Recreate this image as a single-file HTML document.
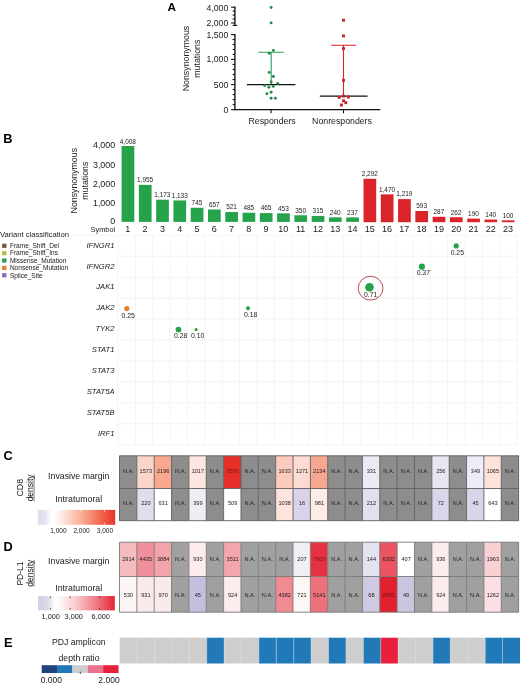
<!DOCTYPE html>
<html lang="en"><head><meta charset="utf-8"><title>Figure</title>
<style>
html,body{margin:0;padding:0;background:#fff}
svg{display:block;font-family:"Liberation Sans", Arial, sans-serif}
#w{will-change:transform;width:520px;height:685px}
</style></head>
<body>
<div id="w">
<svg width="520" height="685" viewBox="0 0 520 685">
<rect width="520" height="685" fill="#fff"/>
<text x="167.40" y="10.60" font-size="11.7" text-anchor="start" font-weight="bold" font-style="normal" fill="#000" >A</text>
<g stroke="#111" stroke-width="1.35" fill="none">
<path d="M234.9 6.6V25.4M234.9 34.0V110.2"/>
<path d="M234.3 109.6H380.3"/>
</g>
<g stroke="#111" stroke-width="1.1" fill="none">
<path d="M232.6 25.4H237.20000000000002"/>
<path d="M231.1 7.2H234.9"/>
<path d="M231.1 23.0H234.9"/>
<path d="M231.1 34.6H234.9"/>
<path d="M231.1 59.4H234.9"/>
<path d="M231.1 84.6H234.9"/>
<path d="M231.1 109.6H234.9"/>
<path d="M232.6 11.15H234.9"/>
<path d="M232.6 15.10H234.9"/>
<path d="M232.6 19.05H234.9"/>
<path d="M232.6 39.56H234.9"/>
<path d="M232.6 44.52H234.9"/>
<path d="M232.6 49.48H234.9"/>
<path d="M232.6 54.44H234.9"/>
<path d="M232.6 64.44H234.9"/>
<path d="M232.6 69.48H234.9"/>
<path d="M232.6 74.52H234.9"/>
<path d="M232.6 79.56H234.9"/>
<path d="M232.6 89.60H234.9"/>
<path d="M232.6 94.60H234.9"/>
<path d="M232.6 99.60H234.9"/>
<path d="M232.6 104.60H234.9"/>
<path d="M271.1 109.6V113.3M343.5 109.6V113.3"/>
</g>
<text x="228.30" y="10.60" font-size="8.7" text-anchor="end" font-weight="normal" font-style="normal" fill="#1a1a1a" >4,000</text>
<text x="228.30" y="26.00" font-size="8.7" text-anchor="end" font-weight="normal" font-style="normal" fill="#1a1a1a" >2,000</text>
<text x="228.30" y="37.60" font-size="8.7" text-anchor="end" font-weight="normal" font-style="normal" fill="#1a1a1a" >1,500</text>
<text x="228.30" y="62.30" font-size="8.7" text-anchor="end" font-weight="normal" font-style="normal" fill="#1a1a1a" >1,000</text>
<text x="228.30" y="87.60" font-size="8.7" text-anchor="end" font-weight="normal" font-style="normal" fill="#1a1a1a" >500</text>
<text x="228.30" y="113.00" font-size="8.7" text-anchor="end" font-weight="normal" font-style="normal" fill="#1a1a1a" >0</text>
<text x="272.10" y="123.90" font-size="8.75" text-anchor="middle" font-weight="normal" font-style="normal" fill="#1a1a1a" >Responders</text>
<text x="342.00" y="124.00" font-size="8.75" text-anchor="middle" font-weight="normal" font-style="normal" fill="#1a1a1a" >Nonresponders</text>
<text transform="translate(188.90,58.50) rotate(-90)" font-size="8.8" text-anchor="middle" fill="#1a1a1a" >Nonsynonymous</text>
<text transform="translate(199.70,58.70) rotate(-90)" font-size="8.75" text-anchor="middle" fill="#1a1a1a" >mutations</text>
<g stroke="#2a9d5c" stroke-width="1.1" fill="none"><path d="M258.5 52.2H283.8M271.2 52.2V84.5"/></g>
<path d="M246.9 84.6H295.4" stroke="#111" stroke-width="1.2" fill="none"/>
<circle cx="271.1" cy="7.5" r="1.45" fill="#1d8a48"/>
<circle cx="271.1" cy="22.9" r="1.45" fill="#1d8a48"/>
<circle cx="273.4" cy="50.4" r="1.45" fill="#1d8a48"/>
<circle cx="269.2" cy="53.2" r="1.45" fill="#1d8a48"/>
<circle cx="269.2" cy="72.4" r="1.45" fill="#1d8a48"/>
<circle cx="273.4" cy="76.5" r="1.45" fill="#1d8a48"/>
<circle cx="271.2" cy="82.0" r="1.45" fill="#1d8a48"/>
<circle cx="277.7" cy="83.5" r="1.45" fill="#1d8a48"/>
<circle cx="264.6" cy="85.5" r="1.45" fill="#1d8a48"/>
<circle cx="268.9" cy="87.2" r="1.45" fill="#1d8a48"/>
<circle cx="273.2" cy="86.4" r="1.45" fill="#1d8a48"/>
<circle cx="266.9" cy="93.8" r="1.45" fill="#1d8a48"/>
<circle cx="271.1" cy="92.3" r="1.45" fill="#1d8a48"/>
<circle cx="271.1" cy="98.2" r="1.45" fill="#1d8a48"/>
<circle cx="275.4" cy="98.2" r="1.45" fill="#1d8a48"/>
<g stroke="#da2429" stroke-width="1.1" fill="none"><path d="M331.2 45.2H356.2M343.5 45.2V96.1"/></g>
<path d="M319.8 96.2H367.6" stroke="#111" stroke-width="1.3" fill="none"/>
<rect x="342.05" y="18.75" width="2.9" height="2.9" fill="#c8202a"/>
<rect x="342.05" y="34.45" width="2.9" height="2.9" fill="#c8202a"/>
<rect x="342.05" y="47.15" width="2.9" height="2.9" fill="#c8202a"/>
<rect x="342.05" y="78.85" width="2.9" height="2.9" fill="#c8202a"/>
<rect x="337.75" y="95.95" width="2.9" height="2.9" fill="#c8202a"/>
<rect x="342.05" y="94.65" width="2.9" height="2.9" fill="#c8202a"/>
<rect x="346.85" y="95.55" width="2.9" height="2.9" fill="#c8202a"/>
<rect x="342.05" y="99.35" width="2.9" height="2.9" fill="#c8202a"/>
<rect x="344.35" y="101.25" width="2.9" height="2.9" fill="#c8202a"/>
<rect x="339.95" y="103.55" width="2.9" height="2.9" fill="#c8202a"/>
<text x="3.30" y="142.70" font-size="12.8" text-anchor="start" font-weight="bold" font-style="normal" fill="#000" >B</text>
<text transform="translate(77.30,180.70) rotate(-90)" font-size="8.8" text-anchor="middle" fill="#1a1a1a" >Nonsynonymous</text>
<text transform="translate(88.00,180.70) rotate(-90)" font-size="8.8" text-anchor="middle" fill="#1a1a1a" >mutations</text>
<text x="115.20" y="148.40" font-size="8.9" text-anchor="end" font-weight="normal" font-style="normal" fill="#1a1a1a" >4,000</text>
<text x="115.20" y="167.80" font-size="8.9" text-anchor="end" font-weight="normal" font-style="normal" fill="#1a1a1a" >3,000</text>
<text x="115.20" y="186.90" font-size="8.9" text-anchor="end" font-weight="normal" font-style="normal" fill="#1a1a1a" >2,000</text>
<text x="115.20" y="205.70" font-size="8.9" text-anchor="end" font-weight="normal" font-style="normal" fill="#1a1a1a" >1,000</text>
<text x="115.20" y="223.80" font-size="8.9" text-anchor="end" font-weight="normal" font-style="normal" fill="#1a1a1a" >0</text>
<rect x="121.60" y="146.00" width="12.7" height="75.90" fill="#26a34a"/>
<text x="127.85" y="143.50" font-size="6.45" text-anchor="middle" font-weight="normal" font-style="normal" fill="#222" >4,008</text>
<text x="127.85" y="232.40" font-size="9" text-anchor="middle" font-weight="normal" font-style="normal" fill="#1a1a1a" >1</text>
<rect x="138.88" y="184.88" width="12.7" height="37.02" fill="#26a34a"/>
<text x="145.13" y="182.18" font-size="6.45" text-anchor="middle" font-weight="normal" font-style="normal" fill="#222" >1,955</text>
<text x="145.13" y="232.40" font-size="9" text-anchor="middle" font-weight="normal" font-style="normal" fill="#1a1a1a" >2</text>
<rect x="156.16" y="199.69" width="12.7" height="22.21" fill="#26a34a"/>
<text x="162.41" y="196.99" font-size="6.45" text-anchor="middle" font-weight="normal" font-style="normal" fill="#222" >1,173</text>
<text x="162.41" y="232.40" font-size="9" text-anchor="middle" font-weight="normal" font-style="normal" fill="#1a1a1a" >3</text>
<rect x="173.44" y="200.44" width="12.7" height="21.46" fill="#26a34a"/>
<text x="179.69" y="197.74" font-size="6.45" text-anchor="middle" font-weight="normal" font-style="normal" fill="#222" >1,133</text>
<text x="179.69" y="232.40" font-size="9" text-anchor="middle" font-weight="normal" font-style="normal" fill="#1a1a1a" >4</text>
<rect x="190.72" y="207.79" width="12.7" height="14.11" fill="#26a34a"/>
<text x="196.97" y="205.09" font-size="6.45" text-anchor="middle" font-weight="normal" font-style="normal" fill="#222" >745</text>
<text x="196.97" y="232.40" font-size="9" text-anchor="middle" font-weight="normal" font-style="normal" fill="#1a1a1a" >5</text>
<rect x="208.00" y="209.46" width="12.7" height="12.44" fill="#26a34a"/>
<text x="214.25" y="206.76" font-size="6.45" text-anchor="middle" font-weight="normal" font-style="normal" fill="#222" >657</text>
<text x="214.25" y="232.40" font-size="9" text-anchor="middle" font-weight="normal" font-style="normal" fill="#1a1a1a" >6</text>
<rect x="225.28" y="212.03" width="12.7" height="9.87" fill="#26a34a"/>
<text x="231.53" y="209.33" font-size="6.45" text-anchor="middle" font-weight="normal" font-style="normal" fill="#222" >521</text>
<text x="231.53" y="232.40" font-size="9" text-anchor="middle" font-weight="normal" font-style="normal" fill="#1a1a1a" >7</text>
<rect x="242.56" y="212.72" width="12.7" height="9.18" fill="#26a34a"/>
<text x="248.81" y="210.02" font-size="6.45" text-anchor="middle" font-weight="normal" font-style="normal" fill="#222" >485</text>
<text x="248.81" y="232.40" font-size="9" text-anchor="middle" font-weight="normal" font-style="normal" fill="#1a1a1a" >8</text>
<rect x="259.84" y="213.09" width="12.7" height="8.81" fill="#26a34a"/>
<text x="266.09" y="210.39" font-size="6.45" text-anchor="middle" font-weight="normal" font-style="normal" fill="#222" >465</text>
<text x="266.09" y="232.40" font-size="9" text-anchor="middle" font-weight="normal" font-style="normal" fill="#1a1a1a" >9</text>
<rect x="277.12" y="213.32" width="12.7" height="8.58" fill="#26a34a"/>
<text x="283.37" y="210.62" font-size="6.45" text-anchor="middle" font-weight="normal" font-style="normal" fill="#222" >453</text>
<text x="283.37" y="232.40" font-size="9" text-anchor="middle" font-weight="normal" font-style="normal" fill="#1a1a1a" >10</text>
<rect x="294.40" y="215.27" width="12.7" height="6.63" fill="#26a34a"/>
<text x="300.65" y="212.57" font-size="6.45" text-anchor="middle" font-weight="normal" font-style="normal" fill="#222" >350</text>
<text x="300.65" y="232.40" font-size="9" text-anchor="middle" font-weight="normal" font-style="normal" fill="#1a1a1a" >11</text>
<rect x="311.68" y="215.93" width="12.7" height="5.97" fill="#26a34a"/>
<text x="317.93" y="213.23" font-size="6.45" text-anchor="middle" font-weight="normal" font-style="normal" fill="#222" >315</text>
<text x="317.93" y="232.40" font-size="9" text-anchor="middle" font-weight="normal" font-style="normal" fill="#1a1a1a" >12</text>
<rect x="328.96" y="217.36" width="12.7" height="4.54" fill="#26a34a"/>
<text x="335.21" y="214.66" font-size="6.45" text-anchor="middle" font-weight="normal" font-style="normal" fill="#222" >240</text>
<text x="335.21" y="232.40" font-size="9" text-anchor="middle" font-weight="normal" font-style="normal" fill="#1a1a1a" >13</text>
<rect x="346.24" y="217.41" width="12.7" height="4.49" fill="#26a34a"/>
<text x="352.49" y="214.71" font-size="6.45" text-anchor="middle" font-weight="normal" font-style="normal" fill="#222" >237</text>
<text x="352.49" y="232.40" font-size="9" text-anchor="middle" font-weight="normal" font-style="normal" fill="#1a1a1a" >14</text>
<rect x="363.52" y="178.80" width="12.7" height="43.40" fill="#da2429"/>
<text x="369.77" y="176.10" font-size="6.45" text-anchor="middle" font-weight="normal" font-style="normal" fill="#222" >2,292</text>
<text x="369.77" y="232.40" font-size="9" text-anchor="middle" font-weight="normal" font-style="normal" fill="#1a1a1a" >15</text>
<rect x="380.80" y="194.36" width="12.7" height="27.84" fill="#da2429"/>
<text x="387.05" y="191.66" font-size="6.45" text-anchor="middle" font-weight="normal" font-style="normal" fill="#222" >1,470</text>
<text x="387.05" y="232.40" font-size="9" text-anchor="middle" font-weight="normal" font-style="normal" fill="#1a1a1a" >16</text>
<rect x="398.08" y="199.12" width="12.7" height="23.08" fill="#da2429"/>
<text x="404.33" y="196.42" font-size="6.45" text-anchor="middle" font-weight="normal" font-style="normal" fill="#222" >1,219</text>
<text x="404.33" y="232.40" font-size="9" text-anchor="middle" font-weight="normal" font-style="normal" fill="#1a1a1a" >17</text>
<rect x="415.36" y="210.97" width="12.7" height="11.23" fill="#da2429"/>
<text x="421.61" y="208.27" font-size="6.45" text-anchor="middle" font-weight="normal" font-style="normal" fill="#222" >593</text>
<text x="421.61" y="232.40" font-size="9" text-anchor="middle" font-weight="normal" font-style="normal" fill="#1a1a1a" >18</text>
<rect x="432.64" y="216.77" width="12.7" height="5.43" fill="#da2429"/>
<text x="438.89" y="214.07" font-size="6.45" text-anchor="middle" font-weight="normal" font-style="normal" fill="#222" >287</text>
<text x="438.89" y="232.40" font-size="9" text-anchor="middle" font-weight="normal" font-style="normal" fill="#1a1a1a" >19</text>
<rect x="449.92" y="217.24" width="12.7" height="4.96" fill="#da2429"/>
<text x="456.17" y="214.54" font-size="6.45" text-anchor="middle" font-weight="normal" font-style="normal" fill="#222" >262</text>
<text x="456.17" y="232.40" font-size="9" text-anchor="middle" font-weight="normal" font-style="normal" fill="#1a1a1a" >20</text>
<rect x="467.20" y="218.60" width="12.7" height="3.60" fill="#da2429"/>
<text x="473.45" y="215.90" font-size="6.45" text-anchor="middle" font-weight="normal" font-style="normal" fill="#222" >190</text>
<text x="473.45" y="232.40" font-size="9" text-anchor="middle" font-weight="normal" font-style="normal" fill="#1a1a1a" >21</text>
<rect x="484.48" y="219.55" width="12.7" height="2.65" fill="#da2429"/>
<text x="490.73" y="216.85" font-size="6.45" text-anchor="middle" font-weight="normal" font-style="normal" fill="#222" >140</text>
<text x="490.73" y="232.40" font-size="9" text-anchor="middle" font-weight="normal" font-style="normal" fill="#1a1a1a" >22</text>
<rect x="501.76" y="220.31" width="12.7" height="1.89" fill="#da2429"/>
<text x="508.01" y="217.61" font-size="6.45" text-anchor="middle" font-weight="normal" font-style="normal" fill="#222" >100</text>
<text x="508.01" y="232.40" font-size="9" text-anchor="middle" font-weight="normal" font-style="normal" fill="#1a1a1a" >23</text>
<text x="115.20" y="232.10" font-size="7.4" text-anchor="end" font-weight="normal" font-style="normal" fill="#1a1a1a" >Symbol</text>
<g stroke="#f4f4f4" stroke-width="1" fill="none">
<path d="M118.00 235V444.8"/>
<path d="M135.35 235V444.8"/>
<path d="M152.70 235V444.8"/>
<path d="M170.05 235V444.8"/>
<path d="M187.40 235V444.8"/>
<path d="M204.75 235V444.8"/>
<path d="M222.10 235V444.8"/>
<path d="M239.45 235V444.8"/>
<path d="M256.80 235V444.8"/>
<path d="M274.15 235V444.8"/>
<path d="M291.50 235V444.8"/>
<path d="M308.85 235V444.8"/>
<path d="M326.20 235V444.8"/>
<path d="M343.55 235V444.8"/>
<path d="M360.90 235V444.8"/>
<path d="M378.25 235V444.8"/>
<path d="M395.60 235V444.8"/>
<path d="M412.95 235V444.8"/>
<path d="M430.30 235V444.8"/>
<path d="M447.65 235V444.8"/>
<path d="M465.00 235V444.8"/>
<path d="M482.35 235V444.8"/>
<path d="M499.70 235V444.8"/>
<path d="M517.05 235V444.8"/>
<path d="M71 235.4H517.6"/>
<path d="M116 256.33H517.6"/>
<path d="M116 277.26H517.6"/>
<path d="M116 298.19H517.6"/>
<path d="M116 319.12H517.6"/>
<path d="M116 340.05H517.6"/>
<path d="M116 360.98H517.6"/>
<path d="M116 381.90999999999997H517.6"/>
<path d="M116 402.84000000000003H517.6"/>
<path d="M116 423.77H517.6"/>
<path d="M116 444.70000000000005H517.6"/>
</g>
<text x="114.50" y="247.60" font-size="7.65" text-anchor="end" font-weight="normal" font-style="italic" fill="#1a1a1a" >IFNGR1</text>
<text x="114.50" y="268.52" font-size="7.65" text-anchor="end" font-weight="normal" font-style="italic" fill="#1a1a1a" >IFNGR2</text>
<text x="114.50" y="289.44" font-size="7.65" text-anchor="end" font-weight="normal" font-style="italic" fill="#1a1a1a" >JAK1</text>
<text x="114.50" y="310.36" font-size="7.65" text-anchor="end" font-weight="normal" font-style="italic" fill="#1a1a1a" >JAK2</text>
<text x="114.50" y="331.28" font-size="7.65" text-anchor="end" font-weight="normal" font-style="italic" fill="#1a1a1a" >TYK2</text>
<text x="114.50" y="352.20" font-size="7.65" text-anchor="end" font-weight="normal" font-style="italic" fill="#1a1a1a" >STAT1</text>
<text x="114.50" y="373.12" font-size="7.65" text-anchor="end" font-weight="normal" font-style="italic" fill="#1a1a1a" >STAT3</text>
<text x="114.50" y="394.04" font-size="7.65" text-anchor="end" font-weight="normal" font-style="italic" fill="#1a1a1a" >STAT5A</text>
<text x="114.50" y="414.96" font-size="7.65" text-anchor="end" font-weight="normal" font-style="italic" fill="#1a1a1a" >STAT5B</text>
<text x="114.50" y="435.88" font-size="7.65" text-anchor="end" font-weight="normal" font-style="italic" fill="#1a1a1a" >IRF1</text>
<text x="0.00" y="237.40" font-size="7.64" text-anchor="start" font-weight="normal" font-style="normal" fill="#1a1a1a" >Variant classification</text>
<rect x="2.1" y="243.70" width="4.4" height="4.2" fill="#7b5244"/>
<text x="9.90" y="248.10" font-size="6.55" text-anchor="start" font-weight="normal" font-style="normal" fill="#1a1a1a" >Frame_Shift_Del</text>
<rect x="2.1" y="251.06" width="4.4" height="4.2" fill="#b5b93c"/>
<text x="9.90" y="255.46" font-size="6.55" text-anchor="start" font-weight="normal" font-style="normal" fill="#1a1a1a" >Frame_Shift_Ins</text>
<rect x="2.1" y="258.42" width="4.4" height="4.2" fill="#26a34a"/>
<text x="9.90" y="262.82" font-size="6.55" text-anchor="start" font-weight="normal" font-style="normal" fill="#1a1a1a" >Missense_Mutation</text>
<rect x="2.1" y="265.78" width="4.4" height="4.2" fill="#e8822c"/>
<text x="9.90" y="270.18" font-size="6.55" text-anchor="start" font-weight="normal" font-style="normal" fill="#1a1a1a" >Nonsense_Mutation</text>
<rect x="2.1" y="273.14" width="4.4" height="4.2" fill="#8a6bb5"/>
<text x="9.90" y="277.54" font-size="6.55" text-anchor="start" font-weight="normal" font-style="normal" fill="#1a1a1a" >Splice_Site</text>
<circle cx="126.8" cy="308.6" r="2.6" fill="#e8822c"/>
<text x="128.20" y="317.90" font-size="6.85" text-anchor="middle" font-weight="normal" font-style="normal" fill="#1a1a1a" >0.25</text>
<circle cx="178.5" cy="329.6" r="2.9" fill="#26a34a"/>
<text x="180.60" y="338.10" font-size="6.85" text-anchor="middle" font-weight="normal" font-style="normal" fill="#1a1a1a" >0.28</text>
<circle cx="196.1" cy="329.6" r="1.6" fill="#26a34a"/>
<text x="197.60" y="338.10" font-size="6.85" text-anchor="middle" font-weight="normal" font-style="normal" fill="#1a1a1a" >0.10</text>
<circle cx="248" cy="308.3" r="2.0" fill="#26a34a"/>
<text x="250.60" y="317.10" font-size="6.85" text-anchor="middle" font-weight="normal" font-style="normal" fill="#1a1a1a" >0.18</text>
<circle cx="456.2" cy="245.9" r="2.6" fill="#26a34a"/>
<text x="457.30" y="255.10" font-size="6.85" text-anchor="middle" font-weight="normal" font-style="normal" fill="#1a1a1a" >0.25</text>
<circle cx="421.9" cy="266.7" r="3.1" fill="#26a34a"/>
<text x="423.30" y="275.30" font-size="6.85" text-anchor="middle" font-weight="normal" font-style="normal" fill="#1a1a1a" >0.37</text>
<circle cx="369.5" cy="287.3" r="4.3" fill="#26a34a"/>
<text x="370.60" y="297.10" font-size="6.85" text-anchor="middle" font-weight="normal" font-style="normal" fill="#1a1a1a" >0.71</text>
<ellipse cx="370.6" cy="288.2" rx="12.4" ry="11.9" fill="none" stroke="#b8323c" stroke-width="0.9"/>
<rect x="119.50" y="455.8" width="17.35" height="32.70" fill="#8d8d8d"/>
<rect x="136.85" y="455.8" width="17.35" height="32.70" fill="#fcd5c9"/>
<rect x="154.20" y="455.8" width="17.35" height="32.70" fill="#f9a78f"/>
<rect x="171.56" y="455.8" width="17.35" height="32.70" fill="#8d8d8d"/>
<rect x="188.91" y="455.8" width="17.35" height="32.70" fill="#fde6df"/>
<rect x="206.26" y="455.8" width="17.35" height="32.70" fill="#8d8d8d"/>
<rect x="223.61" y="455.8" width="17.35" height="32.70" fill="#e8302a"/>
<rect x="240.97" y="455.8" width="17.35" height="32.70" fill="#8d8d8d"/>
<rect x="258.32" y="455.8" width="17.35" height="32.70" fill="#8d8d8d"/>
<rect x="275.67" y="455.8" width="17.35" height="32.70" fill="#fbcbbd"/>
<rect x="293.02" y="455.8" width="17.35" height="32.70" fill="#fcdcd2"/>
<rect x="310.37" y="455.8" width="17.35" height="32.70" fill="#f7a690"/>
<rect x="327.73" y="455.8" width="17.35" height="32.70" fill="#8d8d8d"/>
<rect x="345.08" y="455.8" width="17.35" height="32.70" fill="#8d8d8d"/>
<rect x="362.43" y="455.8" width="17.35" height="32.70" fill="#eceaf5"/>
<rect x="379.78" y="455.8" width="17.35" height="32.70" fill="#8d8d8d"/>
<rect x="397.13" y="455.8" width="17.35" height="32.70" fill="#8d8d8d"/>
<rect x="414.49" y="455.8" width="17.35" height="32.70" fill="#8d8d8d"/>
<rect x="431.84" y="455.8" width="17.35" height="32.70" fill="#e8e6f2"/>
<rect x="449.19" y="455.8" width="17.35" height="32.70" fill="#8d8d8d"/>
<rect x="466.54" y="455.8" width="17.35" height="32.70" fill="#eeecf6"/>
<rect x="483.90" y="455.8" width="17.35" height="32.70" fill="#fde4db"/>
<rect x="501.25" y="455.8" width="17.35" height="32.70" fill="#8d8d8d"/>
<rect x="119.50" y="488.5" width="17.35" height="32.20" fill="#8d8d8d"/>
<rect x="136.85" y="488.5" width="17.35" height="32.20" fill="#e0deed"/>
<rect x="154.20" y="488.5" width="17.35" height="32.20" fill="#ffffff"/>
<rect x="171.56" y="488.5" width="17.35" height="32.20" fill="#8d8d8d"/>
<rect x="188.91" y="488.5" width="17.35" height="32.20" fill="#efeef7"/>
<rect x="206.26" y="488.5" width="17.35" height="32.20" fill="#8d8d8d"/>
<rect x="223.61" y="488.5" width="17.35" height="32.20" fill="#ffffff"/>
<rect x="240.97" y="488.5" width="17.35" height="32.20" fill="#8d8d8d"/>
<rect x="258.32" y="488.5" width="17.35" height="32.20" fill="#8d8d8d"/>
<rect x="275.67" y="488.5" width="17.35" height="32.20" fill="#fde5dd"/>
<rect x="293.02" y="488.5" width="17.35" height="32.20" fill="#d8d3e8"/>
<rect x="310.37" y="488.5" width="17.35" height="32.20" fill="#fdece6"/>
<rect x="327.73" y="488.5" width="17.35" height="32.20" fill="#8d8d8d"/>
<rect x="345.08" y="488.5" width="17.35" height="32.20" fill="#8d8d8d"/>
<rect x="362.43" y="488.5" width="17.35" height="32.20" fill="#e2dfee"/>
<rect x="379.78" y="488.5" width="17.35" height="32.20" fill="#8d8d8d"/>
<rect x="397.13" y="488.5" width="17.35" height="32.20" fill="#8d8d8d"/>
<rect x="414.49" y="488.5" width="17.35" height="32.20" fill="#8d8d8d"/>
<rect x="431.84" y="488.5" width="17.35" height="32.20" fill="#dbd7ea"/>
<rect x="449.19" y="488.5" width="17.35" height="32.20" fill="#8d8d8d"/>
<rect x="466.54" y="488.5" width="17.35" height="32.20" fill="#d9d5e8"/>
<rect x="483.90" y="488.5" width="17.35" height="32.20" fill="#ffffff"/>
<rect x="501.25" y="488.5" width="17.35" height="32.20" fill="#8d8d8d"/>
<g stroke="#5e5e5e" stroke-width="0.9" fill="none">
<path d="M119.50 455.8V520.7"/>
<path d="M136.85 455.8V520.7"/>
<path d="M154.20 455.8V520.7"/>
<path d="M171.56 455.8V520.7"/>
<path d="M188.91 455.8V520.7"/>
<path d="M206.26 455.8V520.7"/>
<path d="M223.61 455.8V520.7"/>
<path d="M240.97 455.8V520.7"/>
<path d="M258.32 455.8V520.7"/>
<path d="M275.67 455.8V520.7"/>
<path d="M293.02 455.8V520.7"/>
<path d="M310.37 455.8V520.7"/>
<path d="M327.73 455.8V520.7"/>
<path d="M345.08 455.8V520.7"/>
<path d="M362.43 455.8V520.7"/>
<path d="M379.78 455.8V520.7"/>
<path d="M397.13 455.8V520.7"/>
<path d="M414.49 455.8V520.7"/>
<path d="M431.84 455.8V520.7"/>
<path d="M449.19 455.8V520.7"/>
<path d="M466.54 455.8V520.7"/>
<path d="M483.90 455.8V520.7"/>
<path d="M501.25 455.8V520.7"/>
<path d="M518.60 455.8V520.7"/>
<path d="M119.5 455.8H518.6"/>
<path d="M119.5 488.5H518.6"/>
<path d="M119.5 520.7H518.6"/>
</g>
<text x="128.48" y="472.80" font-size="5.6" text-anchor="middle" font-weight="normal" font-style="normal" fill="#1c1c1c" >N.A.</text>
<text x="145.83" y="472.80" font-size="5.6" text-anchor="middle" font-weight="normal" font-style="normal" fill="#1c1c1c" >1573</text>
<text x="163.18" y="472.80" font-size="5.6" text-anchor="middle" font-weight="normal" font-style="normal" fill="#1c1c1c" >2196</text>
<text x="180.53" y="472.80" font-size="5.6" text-anchor="middle" font-weight="normal" font-style="normal" fill="#1c1c1c" >N.A.</text>
<text x="197.88" y="472.80" font-size="5.6" text-anchor="middle" font-weight="normal" font-style="normal" fill="#1c1c1c" >1017</text>
<text x="215.24" y="472.80" font-size="5.6" text-anchor="middle" font-weight="normal" font-style="normal" fill="#1c1c1c" >N.A.</text>
<text x="232.59" y="472.80" font-size="5.6" text-anchor="middle" font-weight="normal" font-style="normal" fill="#7a1512" >3500</text>
<text x="249.94" y="472.80" font-size="5.6" text-anchor="middle" font-weight="normal" font-style="normal" fill="#1c1c1c" >N.A.</text>
<text x="267.29" y="472.80" font-size="5.6" text-anchor="middle" font-weight="normal" font-style="normal" fill="#1c1c1c" >N.A.</text>
<text x="284.65" y="472.80" font-size="5.6" text-anchor="middle" font-weight="normal" font-style="normal" fill="#1c1c1c" >1633</text>
<text x="302.00" y="472.80" font-size="5.6" text-anchor="middle" font-weight="normal" font-style="normal" fill="#1c1c1c" >1271</text>
<text x="319.35" y="472.80" font-size="5.6" text-anchor="middle" font-weight="normal" font-style="normal" fill="#1c1c1c" >2134</text>
<text x="336.70" y="472.80" font-size="5.6" text-anchor="middle" font-weight="normal" font-style="normal" fill="#1c1c1c" >N.A.</text>
<text x="354.05" y="472.80" font-size="5.6" text-anchor="middle" font-weight="normal" font-style="normal" fill="#1c1c1c" >N.A.</text>
<text x="371.41" y="472.80" font-size="5.6" text-anchor="middle" font-weight="normal" font-style="normal" fill="#1c1c1c" >331</text>
<text x="388.76" y="472.80" font-size="5.6" text-anchor="middle" font-weight="normal" font-style="normal" fill="#1c1c1c" >N.A.</text>
<text x="406.11" y="472.80" font-size="5.6" text-anchor="middle" font-weight="normal" font-style="normal" fill="#1c1c1c" >N.A.</text>
<text x="423.46" y="472.80" font-size="5.6" text-anchor="middle" font-weight="normal" font-style="normal" fill="#1c1c1c" >N.A.</text>
<text x="440.82" y="472.80" font-size="5.6" text-anchor="middle" font-weight="normal" font-style="normal" fill="#1c1c1c" >256</text>
<text x="458.17" y="472.80" font-size="5.6" text-anchor="middle" font-weight="normal" font-style="normal" fill="#1c1c1c" >N.A.</text>
<text x="475.52" y="472.80" font-size="5.6" text-anchor="middle" font-weight="normal" font-style="normal" fill="#1c1c1c" >349</text>
<text x="492.87" y="472.80" font-size="5.6" text-anchor="middle" font-weight="normal" font-style="normal" fill="#1c1c1c" >1065</text>
<text x="510.22" y="472.80" font-size="5.6" text-anchor="middle" font-weight="normal" font-style="normal" fill="#1c1c1c" >N.A.</text>
<text x="128.48" y="505.20" font-size="5.6" text-anchor="middle" font-weight="normal" font-style="normal" fill="#1c1c1c" >N.A.</text>
<text x="145.83" y="505.20" font-size="5.6" text-anchor="middle" font-weight="normal" font-style="normal" fill="#1c1c1c" >220</text>
<text x="163.18" y="505.20" font-size="5.6" text-anchor="middle" font-weight="normal" font-style="normal" fill="#1c1c1c" >631</text>
<text x="180.53" y="505.20" font-size="5.6" text-anchor="middle" font-weight="normal" font-style="normal" fill="#1c1c1c" >N.A.</text>
<text x="197.88" y="505.20" font-size="5.6" text-anchor="middle" font-weight="normal" font-style="normal" fill="#1c1c1c" >399</text>
<text x="215.24" y="505.20" font-size="5.6" text-anchor="middle" font-weight="normal" font-style="normal" fill="#1c1c1c" >N.A.</text>
<text x="232.59" y="505.20" font-size="5.6" text-anchor="middle" font-weight="normal" font-style="normal" fill="#1c1c1c" >509</text>
<text x="249.94" y="505.20" font-size="5.6" text-anchor="middle" font-weight="normal" font-style="normal" fill="#1c1c1c" >N.A.</text>
<text x="267.29" y="505.20" font-size="5.6" text-anchor="middle" font-weight="normal" font-style="normal" fill="#1c1c1c" >N.A.</text>
<text x="284.65" y="505.20" font-size="5.6" text-anchor="middle" font-weight="normal" font-style="normal" fill="#1c1c1c" >1038</text>
<text x="302.00" y="505.20" font-size="5.6" text-anchor="middle" font-weight="normal" font-style="normal" fill="#1c1c1c" >16</text>
<text x="319.35" y="505.20" font-size="5.6" text-anchor="middle" font-weight="normal" font-style="normal" fill="#1c1c1c" >981</text>
<text x="336.70" y="505.20" font-size="5.6" text-anchor="middle" font-weight="normal" font-style="normal" fill="#1c1c1c" >N.A.</text>
<text x="354.05" y="505.20" font-size="5.6" text-anchor="middle" font-weight="normal" font-style="normal" fill="#1c1c1c" >N.A.</text>
<text x="371.41" y="505.20" font-size="5.6" text-anchor="middle" font-weight="normal" font-style="normal" fill="#1c1c1c" >212</text>
<text x="388.76" y="505.20" font-size="5.6" text-anchor="middle" font-weight="normal" font-style="normal" fill="#1c1c1c" >N.A.</text>
<text x="406.11" y="505.20" font-size="5.6" text-anchor="middle" font-weight="normal" font-style="normal" fill="#1c1c1c" >N.A.</text>
<text x="423.46" y="505.20" font-size="5.6" text-anchor="middle" font-weight="normal" font-style="normal" fill="#1c1c1c" >N.A.</text>
<text x="440.82" y="505.20" font-size="5.6" text-anchor="middle" font-weight="normal" font-style="normal" fill="#1c1c1c" >72</text>
<text x="458.17" y="505.20" font-size="5.6" text-anchor="middle" font-weight="normal" font-style="normal" fill="#1c1c1c" >N.A.</text>
<text x="475.52" y="505.20" font-size="5.6" text-anchor="middle" font-weight="normal" font-style="normal" fill="#1c1c1c" >45</text>
<text x="492.87" y="505.20" font-size="5.6" text-anchor="middle" font-weight="normal" font-style="normal" fill="#1c1c1c" >643</text>
<text x="510.22" y="505.20" font-size="5.6" text-anchor="middle" font-weight="normal" font-style="normal" fill="#1c1c1c" >N.A.</text>
<rect x="119.50" y="542.2" width="17.35" height="34.30" fill="#f5bcc0"/>
<rect x="136.85" y="542.2" width="17.35" height="34.30" fill="#f0909a"/>
<rect x="154.20" y="542.2" width="17.35" height="34.30" fill="#f4a4ab"/>
<rect x="171.56" y="542.2" width="17.35" height="34.30" fill="#a0a0a0"/>
<rect x="188.91" y="542.2" width="17.35" height="34.30" fill="#fcecee"/>
<rect x="206.26" y="542.2" width="17.35" height="34.30" fill="#a0a0a0"/>
<rect x="223.61" y="542.2" width="17.35" height="34.30" fill="#f4a6ad"/>
<rect x="240.97" y="542.2" width="17.35" height="34.30" fill="#a0a0a0"/>
<rect x="258.32" y="542.2" width="17.35" height="34.30" fill="#a0a0a0"/>
<rect x="275.67" y="542.2" width="17.35" height="34.30" fill="#a0a0a0"/>
<rect x="293.02" y="542.2" width="17.35" height="34.30" fill="#f0eff6"/>
<rect x="310.37" y="542.2" width="17.35" height="34.30" fill="#e63240"/>
<rect x="327.73" y="542.2" width="17.35" height="34.30" fill="#a0a0a0"/>
<rect x="345.08" y="542.2" width="17.35" height="34.30" fill="#a0a0a0"/>
<rect x="362.43" y="542.2" width="17.35" height="34.30" fill="#e5e2f0"/>
<rect x="379.78" y="542.2" width="17.35" height="34.30" fill="#ea5561"/>
<rect x="397.13" y="542.2" width="17.35" height="34.30" fill="#ffffff"/>
<rect x="414.49" y="542.2" width="17.35" height="34.30" fill="#a0a0a0"/>
<rect x="431.84" y="542.2" width="17.35" height="34.30" fill="#fcecee"/>
<rect x="449.19" y="542.2" width="17.35" height="34.30" fill="#a0a0a0"/>
<rect x="466.54" y="542.2" width="17.35" height="34.30" fill="#a0a0a0"/>
<rect x="483.90" y="542.2" width="17.35" height="34.30" fill="#f9d0d4"/>
<rect x="501.25" y="542.2" width="17.35" height="34.30" fill="#a0a0a0"/>
<rect x="119.50" y="576.5" width="17.35" height="35.70" fill="#fdf6f6"/>
<rect x="136.85" y="576.5" width="17.35" height="35.70" fill="#fbeaec"/>
<rect x="154.20" y="576.5" width="17.35" height="35.70" fill="#fbeaec"/>
<rect x="171.56" y="576.5" width="17.35" height="35.70" fill="#a0a0a0"/>
<rect x="188.91" y="576.5" width="17.35" height="35.70" fill="#c6bede"/>
<rect x="206.26" y="576.5" width="17.35" height="35.70" fill="#a0a0a0"/>
<rect x="223.61" y="576.5" width="17.35" height="35.70" fill="#fcecee"/>
<rect x="240.97" y="576.5" width="17.35" height="35.70" fill="#a0a0a0"/>
<rect x="258.32" y="576.5" width="17.35" height="35.70" fill="#a0a0a0"/>
<rect x="275.67" y="576.5" width="17.35" height="35.70" fill="#f08a93"/>
<rect x="293.02" y="576.5" width="17.35" height="35.70" fill="#fdf8f8"/>
<rect x="310.37" y="576.5" width="17.35" height="35.70" fill="#ee707a"/>
<rect x="327.73" y="576.5" width="17.35" height="35.70" fill="#a0a0a0"/>
<rect x="345.08" y="576.5" width="17.35" height="35.70" fill="#a0a0a0"/>
<rect x="362.43" y="576.5" width="17.35" height="35.70" fill="#cfc9e2"/>
<rect x="379.78" y="576.5" width="17.35" height="35.70" fill="#e3202f"/>
<rect x="397.13" y="576.5" width="17.35" height="35.70" fill="#cbc5e0"/>
<rect x="414.49" y="576.5" width="17.35" height="35.70" fill="#a0a0a0"/>
<rect x="431.84" y="576.5" width="17.35" height="35.70" fill="#fcecee"/>
<rect x="449.19" y="576.5" width="17.35" height="35.70" fill="#a0a0a0"/>
<rect x="466.54" y="576.5" width="17.35" height="35.70" fill="#a0a0a0"/>
<rect x="483.90" y="576.5" width="17.35" height="35.70" fill="#fbe0e3"/>
<rect x="501.25" y="576.5" width="17.35" height="35.70" fill="#a0a0a0"/>
<g stroke="#787878" stroke-width="0.9" fill="none">
<path d="M119.50 542.2V612.2"/>
<path d="M136.85 542.2V612.2"/>
<path d="M154.20 542.2V612.2"/>
<path d="M171.56 542.2V612.2"/>
<path d="M188.91 542.2V612.2"/>
<path d="M206.26 542.2V612.2"/>
<path d="M223.61 542.2V612.2"/>
<path d="M240.97 542.2V612.2"/>
<path d="M258.32 542.2V612.2"/>
<path d="M275.67 542.2V612.2"/>
<path d="M293.02 542.2V612.2"/>
<path d="M310.37 542.2V612.2"/>
<path d="M327.73 542.2V612.2"/>
<path d="M345.08 542.2V612.2"/>
<path d="M362.43 542.2V612.2"/>
<path d="M379.78 542.2V612.2"/>
<path d="M397.13 542.2V612.2"/>
<path d="M414.49 542.2V612.2"/>
<path d="M431.84 542.2V612.2"/>
<path d="M449.19 542.2V612.2"/>
<path d="M466.54 542.2V612.2"/>
<path d="M483.90 542.2V612.2"/>
<path d="M501.25 542.2V612.2"/>
<path d="M518.60 542.2V612.2"/>
<path d="M119.5 542.2H518.6"/>
<path d="M119.5 576.5H518.6"/>
<path d="M119.5 612.2H518.6"/>
</g>
<text x="128.48" y="560.90" font-size="5.6" text-anchor="middle" font-weight="normal" font-style="normal" fill="#1c1c1c" >2914</text>
<text x="145.83" y="560.90" font-size="5.6" text-anchor="middle" font-weight="normal" font-style="normal" fill="#1c1c1c" >4435</text>
<text x="163.18" y="560.90" font-size="5.6" text-anchor="middle" font-weight="normal" font-style="normal" fill="#1c1c1c" >3884</text>
<text x="180.53" y="560.90" font-size="5.6" text-anchor="middle" font-weight="normal" font-style="normal" fill="#1c1c1c" >N.A.</text>
<text x="197.88" y="560.90" font-size="5.6" text-anchor="middle" font-weight="normal" font-style="normal" fill="#1c1c1c" >930</text>
<text x="215.24" y="560.90" font-size="5.6" text-anchor="middle" font-weight="normal" font-style="normal" fill="#1c1c1c" >N.A.</text>
<text x="232.59" y="560.90" font-size="5.6" text-anchor="middle" font-weight="normal" font-style="normal" fill="#1c1c1c" >3511</text>
<text x="249.94" y="560.90" font-size="5.6" text-anchor="middle" font-weight="normal" font-style="normal" fill="#1c1c1c" >N.A.</text>
<text x="267.29" y="560.90" font-size="5.6" text-anchor="middle" font-weight="normal" font-style="normal" fill="#1c1c1c" >N.A.</text>
<text x="284.65" y="560.90" font-size="5.6" text-anchor="middle" font-weight="normal" font-style="normal" fill="#1c1c1c" >N.A.</text>
<text x="302.00" y="560.90" font-size="5.6" text-anchor="middle" font-weight="normal" font-style="normal" fill="#1c1c1c" >207</text>
<text x="319.35" y="560.90" font-size="5.6" text-anchor="middle" font-weight="normal" font-style="normal" fill="#7a1512" >7969</text>
<text x="336.70" y="560.90" font-size="5.6" text-anchor="middle" font-weight="normal" font-style="normal" fill="#1c1c1c" >N.A.</text>
<text x="354.05" y="560.90" font-size="5.6" text-anchor="middle" font-weight="normal" font-style="normal" fill="#1c1c1c" >N.A.</text>
<text x="371.41" y="560.90" font-size="5.6" text-anchor="middle" font-weight="normal" font-style="normal" fill="#1c1c1c" >144</text>
<text x="388.76" y="560.90" font-size="5.6" text-anchor="middle" font-weight="normal" font-style="normal" fill="#1c1c1c" >6302</text>
<text x="406.11" y="560.90" font-size="5.6" text-anchor="middle" font-weight="normal" font-style="normal" fill="#1c1c1c" >407</text>
<text x="423.46" y="560.90" font-size="5.6" text-anchor="middle" font-weight="normal" font-style="normal" fill="#1c1c1c" >N.A.</text>
<text x="440.82" y="560.90" font-size="5.6" text-anchor="middle" font-weight="normal" font-style="normal" fill="#1c1c1c" >936</text>
<text x="458.17" y="560.90" font-size="5.6" text-anchor="middle" font-weight="normal" font-style="normal" fill="#1c1c1c" >N.A.</text>
<text x="475.52" y="560.90" font-size="5.6" text-anchor="middle" font-weight="normal" font-style="normal" fill="#1c1c1c" >N.A.</text>
<text x="492.87" y="560.90" font-size="5.6" text-anchor="middle" font-weight="normal" font-style="normal" fill="#1c1c1c" >1963</text>
<text x="510.22" y="560.90" font-size="5.6" text-anchor="middle" font-weight="normal" font-style="normal" fill="#1c1c1c" >N.A.</text>
<text x="128.48" y="596.70" font-size="5.6" text-anchor="middle" font-weight="normal" font-style="normal" fill="#1c1c1c" >530</text>
<text x="145.83" y="596.70" font-size="5.6" text-anchor="middle" font-weight="normal" font-style="normal" fill="#1c1c1c" >931</text>
<text x="163.18" y="596.70" font-size="5.6" text-anchor="middle" font-weight="normal" font-style="normal" fill="#1c1c1c" >970</text>
<text x="180.53" y="596.70" font-size="5.6" text-anchor="middle" font-weight="normal" font-style="normal" fill="#1c1c1c" >N.A.</text>
<text x="197.88" y="596.70" font-size="5.6" text-anchor="middle" font-weight="normal" font-style="normal" fill="#1c1c1c" >45</text>
<text x="215.24" y="596.70" font-size="5.6" text-anchor="middle" font-weight="normal" font-style="normal" fill="#1c1c1c" >N.A.</text>
<text x="232.59" y="596.70" font-size="5.6" text-anchor="middle" font-weight="normal" font-style="normal" fill="#1c1c1c" >924</text>
<text x="249.94" y="596.70" font-size="5.6" text-anchor="middle" font-weight="normal" font-style="normal" fill="#1c1c1c" >N.A.</text>
<text x="267.29" y="596.70" font-size="5.6" text-anchor="middle" font-weight="normal" font-style="normal" fill="#1c1c1c" >N.A.</text>
<text x="284.65" y="596.70" font-size="5.6" text-anchor="middle" font-weight="normal" font-style="normal" fill="#1c1c1c" >4382</text>
<text x="302.00" y="596.70" font-size="5.6" text-anchor="middle" font-weight="normal" font-style="normal" fill="#1c1c1c" >721</text>
<text x="319.35" y="596.70" font-size="5.6" text-anchor="middle" font-weight="normal" font-style="normal" fill="#1c1c1c" >5141</text>
<text x="336.70" y="596.70" font-size="5.6" text-anchor="middle" font-weight="normal" font-style="normal" fill="#1c1c1c" >N.A.</text>
<text x="354.05" y="596.70" font-size="5.6" text-anchor="middle" font-weight="normal" font-style="normal" fill="#1c1c1c" >N.A.</text>
<text x="371.41" y="596.70" font-size="5.6" text-anchor="middle" font-weight="normal" font-style="normal" fill="#1c1c1c" >68</text>
<text x="388.76" y="596.70" font-size="5.6" text-anchor="middle" font-weight="normal" font-style="normal" fill="#7a1512" >8895</text>
<text x="406.11" y="596.70" font-size="5.6" text-anchor="middle" font-weight="normal" font-style="normal" fill="#1c1c1c" >49</text>
<text x="423.46" y="596.70" font-size="5.6" text-anchor="middle" font-weight="normal" font-style="normal" fill="#1c1c1c" >N.A.</text>
<text x="440.82" y="596.70" font-size="5.6" text-anchor="middle" font-weight="normal" font-style="normal" fill="#1c1c1c" >924</text>
<text x="458.17" y="596.70" font-size="5.6" text-anchor="middle" font-weight="normal" font-style="normal" fill="#1c1c1c" >N.A.</text>
<text x="475.52" y="596.70" font-size="5.6" text-anchor="middle" font-weight="normal" font-style="normal" fill="#1c1c1c" >N.A.</text>
<text x="492.87" y="596.70" font-size="5.6" text-anchor="middle" font-weight="normal" font-style="normal" fill="#1c1c1c" >1262</text>
<text x="510.22" y="596.70" font-size="5.6" text-anchor="middle" font-weight="normal" font-style="normal" fill="#1c1c1c" >N.A.</text>
<text x="3.60" y="459.70" font-size="12.8" text-anchor="start" font-weight="bold" font-style="normal" fill="#000" >C</text>
<text transform="translate(23.00,487.70) rotate(-90)" font-size="8.8" text-anchor="middle" fill="#1a1a1a" >CD8</text>
<text transform="translate(32.90,487.90) rotate(-90)" font-size="8.5" text-anchor="middle" fill="#1a1a1a" >density</text>
<path d="M34.0 474.5V501.3" stroke="#1a1a1a" stroke-width="0.6"/>
<text x="78.75" y="479.30" font-size="8.75" text-anchor="middle" font-weight="normal" font-style="normal" fill="#1a1a1a" >Invasive margin</text>
<text x="78.75" y="501.80" font-size="8.8" text-anchor="middle" font-weight="normal" font-style="normal" fill="#1a1a1a" >Intratumoral</text>
<defs><linearGradient id="gc" x1="0" x2="1" y1="0" y2="0"><stop offset="0" stop-color="#dddbea"/><stop offset="0.10" stop-color="#e6e4f0"/><stop offset="0.17" stop-color="#ffffff"/><stop offset="0.22" stop-color="#ffffff"/><stop offset="0.35" stop-color="#fde0d7"/><stop offset="0.6" stop-color="#f9a48d"/><stop offset="0.8" stop-color="#f06a52"/><stop offset="1" stop-color="#e8352a"/></linearGradient>
<linearGradient id="gd" x1="0" x2="1" y1="0" y2="0"><stop offset="0" stop-color="#d3cfe5"/><stop offset="0.12" stop-color="#dcd9ea"/><stop offset="0.22" stop-color="#ffffff"/><stop offset="0.27" stop-color="#fffafa"/><stop offset="0.5" stop-color="#f9c8cc"/><stop offset="0.75" stop-color="#f07c86"/><stop offset="1" stop-color="#e52432"/></linearGradient></defs>
<rect x="37.8" y="509.9" width="77.4" height="14.9" fill="url(#gc)"/>
<path d="M58 510V512M58 522.6V524.6" stroke="#fff" stroke-width="0.8" opacity="0.8"/>
<path d="M81.25 510V512M81.25 522.6V524.6" stroke="#fff" stroke-width="0.8" opacity="0.8"/>
<path d="M104.5 510V512M104.5 522.6V524.6" stroke="#fff" stroke-width="0.8" opacity="0.8"/>
<text x="58.40" y="533.30" font-size="6.5" text-anchor="middle" font-weight="normal" font-style="normal" fill="#1a1a1a" >1,000</text>
<text x="81.60" y="533.30" font-size="6.5" text-anchor="middle" font-weight="normal" font-style="normal" fill="#1a1a1a" >2,000</text>
<text x="104.90" y="533.30" font-size="6.5" text-anchor="middle" font-weight="normal" font-style="normal" fill="#1a1a1a" >3,000</text>
<text x="3.60" y="551.30" font-size="12.8" text-anchor="start" font-weight="bold" font-style="normal" fill="#000" >D</text>
<text transform="translate(23.00,573.50) rotate(-90)" font-size="8.5" text-anchor="middle" fill="#1a1a1a" >PD-L1</text>
<text transform="translate(32.90,573.20) rotate(-90)" font-size="8.5" text-anchor="middle" fill="#1a1a1a" >density</text>
<path d="M34.0 559.8V586.6" stroke="#1a1a1a" stroke-width="0.6"/>
<text x="78.75" y="564.30" font-size="8.75" text-anchor="middle" font-weight="normal" font-style="normal" fill="#1a1a1a" >Invasive margin</text>
<text x="78.75" y="591.30" font-size="8.8" text-anchor="middle" font-weight="normal" font-style="normal" fill="#1a1a1a" >Intratumoral</text>
<rect x="38.1" y="596" width="76.7" height="14.4" fill="url(#gd)"/>
<path d="M50.4 596.4V598.2M50.4 607.8V609.6" stroke="#333" stroke-width="0.8"/>
<path d="M70.2 596.4V598.2M70.2 607.8V609.6" stroke="#333" stroke-width="0.8"/>
<path d="M99.7 596.4V598.2M99.7 607.8V609.6" stroke="#333" stroke-width="0.8"/>
<text x="50.75" y="619.00" font-size="7.3" text-anchor="middle" font-weight="normal" font-style="normal" fill="#1a1a1a" >1,000</text>
<text x="73.75" y="619.00" font-size="7.3" text-anchor="middle" font-weight="normal" font-style="normal" fill="#1a1a1a" >3,000</text>
<text x="100.75" y="619.00" font-size="7.3" text-anchor="middle" font-weight="normal" font-style="normal" fill="#1a1a1a" >6,000</text>
<text x="4.10" y="647.10" font-size="12.8" text-anchor="start" font-weight="bold" font-style="normal" fill="#000" >E</text>
<text x="78.75" y="644.60" font-size="8.7" text-anchor="middle" font-weight="normal" font-style="normal" fill="#1a1a1a" >PDJ amplicon</text>
<text x="79.00" y="660.80" font-size="8.7" text-anchor="middle" font-weight="normal" font-style="normal" fill="#1a1a1a" >depth ratio</text>
<rect x="41.70" y="665.2" width="15.4" height="7.8" fill="#1f4478"/>
<rect x="57.06" y="665.2" width="15.4" height="7.8" fill="#2277bb"/>
<rect x="72.42" y="665.2" width="15.4" height="7.8" fill="#cdcdcd"/>
<rect x="87.78" y="665.2" width="15.4" height="7.8" fill="#e8728c"/>
<rect x="103.14" y="665.2" width="15.4" height="7.8" fill="#e8203c"/>
<path d="M80.3 671.6V674" stroke="#222" stroke-width="0.8"/>
<text x="51.40" y="682.70" font-size="8.5" text-anchor="middle" font-weight="normal" font-style="normal" fill="#1a1a1a" >0.000</text>
<text x="109.00" y="682.70" font-size="8.5" text-anchor="middle" font-weight="normal" font-style="normal" fill="#1a1a1a" >2.000</text>
<rect x="119.70" y="637.7" width="17.45" height="25.8" fill="#cecece"/>
<rect x="137.10" y="637.7" width="17.45" height="25.8" fill="#cecece"/>
<rect x="154.51" y="637.7" width="17.45" height="25.8" fill="#cecece"/>
<rect x="171.91" y="637.7" width="17.45" height="25.8" fill="#cecece"/>
<rect x="189.32" y="637.7" width="17.45" height="25.8" fill="#cecece"/>
<rect x="206.72" y="637.7" width="17.45" height="25.8" fill="#2179b8"/>
<rect x="224.13" y="637.7" width="17.45" height="25.8" fill="#cecece"/>
<rect x="241.53" y="637.7" width="17.45" height="25.8" fill="#cecece"/>
<rect x="258.93" y="637.7" width="17.45" height="25.8" fill="#2179b8"/>
<rect x="276.34" y="637.7" width="17.45" height="25.8" fill="#2179b8"/>
<rect x="293.74" y="637.7" width="17.45" height="25.8" fill="#2179b8"/>
<rect x="311.15" y="637.7" width="17.45" height="25.8" fill="#cecece"/>
<rect x="328.55" y="637.7" width="17.45" height="25.8" fill="#2179b8"/>
<rect x="345.96" y="637.7" width="17.45" height="25.8" fill="#cecece"/>
<rect x="363.36" y="637.7" width="17.45" height="25.8" fill="#2179b8"/>
<rect x="380.77" y="637.7" width="17.45" height="25.8" fill="#e8203c"/>
<rect x="398.17" y="637.7" width="17.45" height="25.8" fill="#cecece"/>
<rect x="415.57" y="637.7" width="17.45" height="25.8" fill="#cecece"/>
<rect x="432.98" y="637.7" width="17.45" height="25.8" fill="#2179b8"/>
<rect x="450.38" y="637.7" width="17.45" height="25.8" fill="#cecece"/>
<rect x="467.79" y="637.7" width="17.45" height="25.8" fill="#cecece"/>
<rect x="485.19" y="637.7" width="17.45" height="25.8" fill="#2179b8"/>
<rect x="502.60" y="637.7" width="17.45" height="25.8" fill="#2179b8"/>
<g stroke="#dcdcdc" stroke-width="0.6" opacity="0.8">
<path d="M137.10 637.7V663.5"/>
<path d="M154.51 637.7V663.5"/>
<path d="M171.91 637.7V663.5"/>
<path d="M189.32 637.7V663.5"/>
<path d="M206.72 637.7V663.5"/>
<path d="M224.13 637.7V663.5"/>
<path d="M241.53 637.7V663.5"/>
<path d="M258.93 637.7V663.5"/>
<path d="M276.34 637.7V663.5"/>
<path d="M293.74 637.7V663.5"/>
<path d="M311.15 637.7V663.5"/>
<path d="M328.55 637.7V663.5"/>
<path d="M345.96 637.7V663.5"/>
<path d="M363.36 637.7V663.5"/>
<path d="M380.77 637.7V663.5"/>
<path d="M398.17 637.7V663.5"/>
<path d="M415.57 637.7V663.5"/>
<path d="M432.98 637.7V663.5"/>
<path d="M450.38 637.7V663.5"/>
<path d="M467.79 637.7V663.5"/>
<path d="M485.19 637.7V663.5"/>
<path d="M502.60 637.7V663.5"/>
</g>
</svg>
</div>
</body></html>
